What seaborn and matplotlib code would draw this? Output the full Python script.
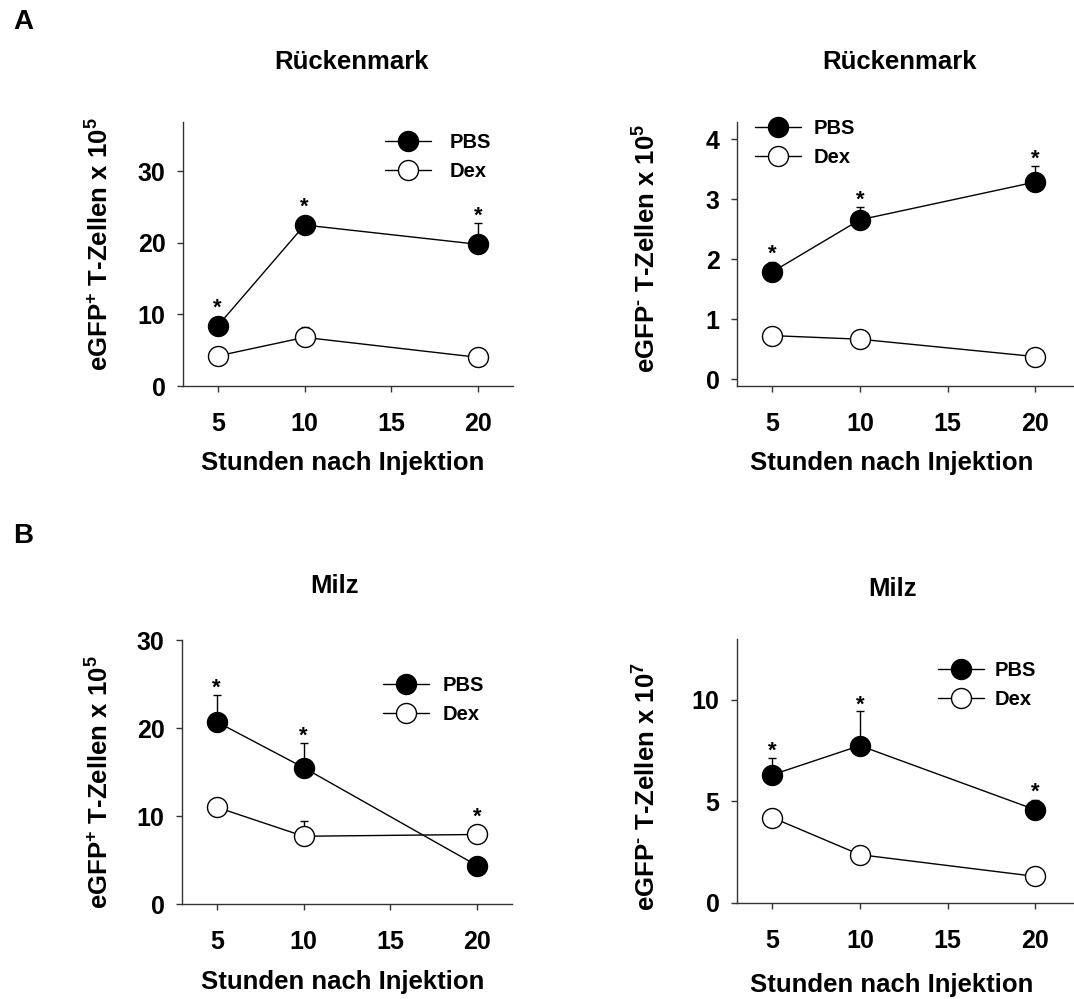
import numpy as np
import matplotlib
matplotlib.use("Agg")
import matplotlib.pyplot as plt
import seaborn as sns

# ---- data -------------------------------------------------------------
hours = [5, 10, 20]
groups = ["PBS", "Dex"]

# Rückenmark, eGFP+ T cells (x 10^5)
rm_pos_pbs = [8.4, 22.5, 19.8]
rm_pos_pbs_err = [0.5, 0.8, 3.0]
rm_pos_dex = [4.2, 6.8, 4.0]
rm_pos_dex_err = [0.3, 1.4, 0.3]
rm_pos_sig = ["PBS", "PBS", "PBS"]

# Rückenmark, eGFP- T cells (x 10^5)
rm_neg_pbs = [1.79, 2.66, 3.29]
rm_neg_pbs_err = [0.17, 0.21, 0.27]
rm_neg_dex = [0.73, 0.67, 0.38]
rm_neg_dex_err = [0.03, 0.10, 0.03]
rm_neg_sig = ["PBS", "PBS", "PBS"]

# Milz, eGFP+ T cells (x 10^5)
milz_pos_pbs = [20.7, 15.5, 4.35]
milz_pos_pbs_err = [3.1, 2.8, 0.4]
milz_pos_dex = [11.0, 7.7, 7.9]
milz_pos_dex_err = [0.5, 1.7, 0.5]
milz_pos_sig = ["PBS", "PBS", "Dex"]

# Milz, eGFP- T cells (x 10^7)
milz_neg_pbs = [6.31, 7.75, 4.59]
milz_neg_pbs_err = [0.85, 1.68, 0.5]
milz_neg_dex = [4.21, 2.38, 1.31]
milz_neg_dex_err = [0.1, 0.1, 0.1]
milz_neg_sig = ["PBS", "PBS", "PBS"]

x_ticks = [5, 10, 15, 20]
title_rm = "Rückenmark"
title_milz = "Milz"
x_label = "Stunden nach Injektion"

# ---- style -------------------------------------------------------------
sns.set_theme(style="ticks")
plt.rcParams["font.family"] = ["Liberation Sans", "DejaVu Sans"]
plt.rcParams["font.weight"] = "bold"
plt.rcParams["text.color"] = "black"
plt.rcParams["axes.labelcolor"] = "black"
plt.rcParams["xtick.color"] = "black"
plt.rcParams["ytick.color"] = "black"
plt.rcParams["mathtext.fontset"] = "custom"
plt.rcParams["mathtext.rm"] = "Liberation Sans:bold"
plt.rcParams["mathtext.it"] = "Liberation Sans:bold"
plt.rcParams["mathtext.bf"] = "Liberation Sans:bold"
plt.rcParams["mathtext.default"] = "regular"

W, H = 1074, 999
DPI = 100
fig = plt.figure(figsize=(W / DPI, H / DPI), dpi=DPI)
fig.patch.set_facecolor("white")

SPINE = "#333333"
MS = 14.4          # marker diameter in points
TICK_FS = 18
LABEL_FS = 18.5
LEG_FS = 14.5


def fx(px):
    return px / W


def fy(py):
    return 1 - py / H


panels = [
    dict(box=(183, 513, 122, 386), xlim=(3, 22), ylim=(0, 36.9), yticks=[0, 10, 20, 30],
         pbs=rm_pos_pbs, pbs_err=rm_pos_pbs_err, dex=rm_pos_dex, dex_err=rm_pos_dex_err,
         sig=rm_pos_sig, title=title_rm, title_xy=(352, 62),
         ylabel="eGFP$^{+}$ T-Zellen x 10$^{5}$", ylabel_xy=(100, 244),
         xlabel_xy=(343, 463), leg=(385, 157, 0.9)),
    dict(box=(737, 1080, 122, 386), xlim=(3, 22.54), ylim=(-0.11, 4.29), yticks=[0, 1, 2, 3, 4],
         pbs=rm_neg_pbs, pbs_err=rm_neg_pbs_err, dex=rm_neg_dex, dex_err=rm_neg_dex_err,
         sig=rm_neg_sig, title=title_rm, title_xy=(900, 62),
         ylabel="eGFP$^{\\text{-}}$ T-Zellen x 10$^{5}$", ylabel_xy=(647, 248),
         xlabel_xy=(892, 463), leg=(755, 143, 0.6)),
    dict(box=(182, 512, 640, 904), xlim=(3, 22), ylim=(0, 30), yticks=[0, 10, 20, 30],
         pbs=milz_pos_pbs, pbs_err=milz_pos_pbs_err, dex=milz_pos_dex, dex_err=milz_pos_dex_err,
         sig=milz_pos_sig, title=title_milz, title_xy=(334, 586),
         ylabel="eGFP$^{+}$ T-Zellen x 10$^{5}$", ylabel_xy=(100, 782),
         xlabel_xy=(343, 982), leg=(383, 700, 0.65)),
    dict(box=(737, 1080, 639, 903), xlim=(3, 22.54), ylim=(0, 13), yticks=[0, 5, 10],
         pbs=milz_neg_pbs, pbs_err=milz_neg_pbs_err, dex=milz_neg_dex, dex_err=milz_neg_dex_err,
         sig=milz_neg_sig, title=title_milz, title_xy=(893, 589),
         ylabel="eGFP$^{\\text{-}}$ T-Zellen x 10$^{7}$", ylabel_xy=(647, 787),
         xlabel_xy=(892, 985), leg=(938, 685, 0.5)),
]

for p in panels:
    l, r, t, b = p["box"]
    ax = fig.add_axes([fx(l), fy(b), (r - l) / W, (b - t) / H])
    ax.set_facecolor("white")
    ax.set_xlim(*p["xlim"])
    ax.set_ylim(*p["ylim"])

    series = {
        "PBS": (p["pbs"], p["pbs_err"], "black"),
        "Dex": (p["dex"], p["dex_err"], "white"),
    }
    # upper error bars sit behind the markers
    for name in groups:
        vals, errs, face = series[name]
        ax.errorbar(hours, vals, yerr=[np.zeros(len(errs)), errs], fmt="none",
                    ecolor="black", elinewidth=1.0, capsize=2.6, capthick=1.0,
                    zorder=2)
    for name in groups:
        vals, errs, face = series[name]
        sns.lineplot(x=hours, y=vals, ax=ax, color="black", linewidth=1.0,
                     marker="o", markersize=MS, markerfacecolor=face,
                     markeredgecolor="black", markeredgewidth=1.0,
                     label=name, errorbar=None, zorder=3)

    # significance asterisks above marker / error bar
    fig.canvas.draw()
    r_px = MS / 2 * DPI / 72
    for i, h in enumerate(hours):
        grp = p["sig"][i]
        if not grp:
            continue
        vals, errs, _ = series[grp]
        y0 = ax.transData.transform((h, vals[i]))[1]
        ye = ax.transData.transform((h, vals[i] + errs[i]))[1]
        top = max(ye, y0 + r_px + 1)
        off_pt = (top - y0 + 1) * 72 / DPI
        ax.annotate("*", xy=(h, vals[i]), xytext=(0, off_pt),
                    textcoords="offset points", ha="center", va="baseline",
                    fontsize=16, fontweight="bold", color="black")

    ax.set_xticks(x_ticks)
    ax.set_yticks(p["yticks"])
    for s in ["top", "right"]:
        ax.spines[s].set_visible(False)
    for s in ["left", "bottom"]:
        ax.spines[s].set_color(SPINE)
        ax.spines[s].set_linewidth(1.0)
    ax.tick_params(axis="x", direction="out", length=4, width=1.0, color=SPINE,
                   labelcolor="black", pad=14.5, labelsize=TICK_FS)
    ax.tick_params(axis="y", direction="out", length=4, width=1.0, color=SPINE,
                   labelcolor="black", pad=8.5, labelsize=TICK_FS)
    for lab in ax.get_xticklabels() + ax.get_yticklabels():
        lab.set_fontweight("bold")
    ax.set_xlabel("")
    ax.set_ylabel("")
    ax.grid(False)

    lx, ly, pad = p["leg"]
    leg = ax.legend(loc="center left", bbox_to_anchor=(fx(lx), fy(ly)),
                    bbox_transform=fig.transFigure, frameon=False,
                    fontsize=LEG_FS, handlelength=2.3, handletextpad=pad,
                    labelspacing=0.5, borderpad=0, borderaxespad=0)
    for txt in leg.get_texts():
        txt.set_fontweight("bold")
        txt.set_color("black")

    tx, ty = p["title_xy"]
    fig.text(fx(tx), fy(ty), p["title"], ha="center", va="center",
             fontsize=LABEL_FS, fontweight="bold", color="black")
    yx, yy = p["ylabel_xy"]
    fig.text(fx(yx), fy(yy), p["ylabel"], ha="center", va="center",
             rotation=90, fontsize=LABEL_FS, fontweight="bold", color="black")
    xx, xy = p["xlabel_xy"]
    fig.text(fx(xx), fy(xy), x_label, ha="center", va="center",
             fontsize=LABEL_FS, fontweight="bold", color="black")

fig.text(fx(23), fy(22), "A", ha="center", va="center", fontsize=20,
         fontweight="bold", color="black")
fig.text(fx(23), fy(536), "B", ha="center", va="center", fontsize=20,
         fontweight="bold", color="black")

fig.savefig("out.png", dpi=DPI, facecolor="white")
